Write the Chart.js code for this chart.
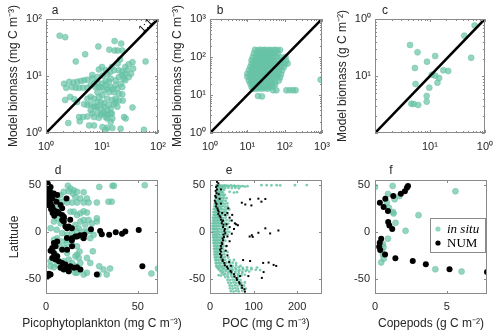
<!DOCTYPE html>
<html>
<head>
<title>Model vs in situ biomass</title>
<script src="https://cdn.jsdelivr.net/npm/chart.js@4.4.1/dist/chart.umd.min.js"></script>
<style>
  body { margin: 0; background: #fff; }
  #wrap { position: relative; width: 500px; height: 336px; }
  #wrap canvas { position: absolute; left: 0; top: 0; }
</style>
</head>
<body>
<div id="wrap">
  <canvas id="panelA" width="500" height="336"></canvas>
  <canvas id="panelB" width="500" height="336"></canvas>
  <canvas id="panelC" width="500" height="336"></canvas>
  <canvas id="panelD" width="500" height="336"></canvas>
  <canvas id="panelE" width="500" height="336"></canvas>
  <canvas id="panelF" width="500" height="336"></canvas>
</div>
<script>
// ---- axis ranges and ticks ----
const aRange = [1, 100], aTicks = [1, 10, 100], aTickText = ['10⁰', '10¹', '10²'];
const bRange = [1, 1000], bTicks = [1, 10, 100, 1000], bTickText = ['10⁰', '10¹', '10²', '10³'];
const cRange = [0.01, 1], cTicks = [0.01, 0.1, 1], cTickText = ['', '10¹', '10⁰'];
const latRange = [-66, 55], latTicks = [-50, 0, 50];
const dRange = [0, 61], dTicks = [0, 50];
const eRange = [0, 257], eTicks = [0, 100, 200];
const fRange = [0, 7.8], fTicks = [0, 5];

// ---- a: picophytoplankton, in situ (x) vs model (y), mg C m-3 ----
const picoPairs = [[1.75,51],[2.2,48],[8.6,33],[16.8,41],[22,37],[13.5,29],[16.8,28],[19,28],[23,28],[5,24],[3.4,18],[60,18],[35,17.5],[30,16],[26,14.4],[36,13.5],[21,19.5],[19,16.5],[10,14.4],[8.8,13],[11.6,12.6],[14,11.8],[16.4,12.6],[12.4,10.7],[10.2,10.2],[8.3,9.6],[6.7,9],[5.5,8.6],[4.8,8.4],[4.2,8.2],[3.6,7.9],[3.1,7.7],[2.6,7.9],[2.1,7.3],[2.3,6.2],[2.9,6.4],[3.4,6.2],[3.9,6.2],[4.6,6.2],[5.5,6.2],[6.3,6.9],[7.2,7.3],[14.3,9],[17.5,8.4],[20,9.6],[23,10.3],[26,11],[33,11],[24.7,9],[21.5,7.3],[17.5,6.9],[14.3,6.4],[11.6,6.9],[9.5,6.4],[10.9,5.6],[13.3,5.2],[16.4,5.2],[20,4.9],[10.2,4.6],[8.3,5.2],[8.8,4.3],[12.4,4],[15.3,3.8],[17.5,3.4],[23,4.8],[23.5,3.7],[35,2.8],[2.2,3.8],[2.7,4.3],[3.2,3.9],[3.6,3.5],[4.8,3.2],[5.5,3.1],[6.3,3.2],[7.2,2.9],[8.3,2.9],[9.5,2.7],[10.9,2.9],[12.4,2.5],[14.3,2.7],[8.3,2.3],[6.7,2.2],[10.2,2.2],[12.4,2.1],[15,2.2],[6.3,2.5],[3.9,1.9],[4.6,1.9],[5.5,1.95],[7.2,1.9],[8.8,1.85],[11.6,1.9],[15.3,1.8],[14.3,1.56],[24.7,1.9],[26.5,1.8],[2.5,1.5],[4,1.6],[5.9,1.36],[7.2,1.36],[10.2,1.27],[12.4,1.24],[15.3,1.22],[11.6,1.14],[21.5,1.19],[56,1.14],[10.2,7.3],[11.6,8.2],[13.3,7.9],[8.3,7.9],[8.8,6.4],[12.4,6],[15.3,5.8],[18.8,6],[9.5,3.5],[10.9,3.3],[13.3,3.1],[7.2,4],[6.3,4.3],[5.5,4],[18.8,2.9],[16.4,3.2],[7.6,6.4],[6.7,10.4],[15,14.4],[20,12.6],[23,12],[28,12.6],[10.9,2.3],[14.3,2.2],[12.4,1.8],[17.5,4],[20,3.7],[8.3,3.5],[7.6,2.9],[9.5,2.1],[26,8.4],[30,9.6],[23,6.4]];

// ---- b: POC, in situ (x) vs model (y), mg C m-3 ----
const pocPairs = [[16,155],[19,150],[22,156],[26,152],[30,155],[35,150],[40,154],[47,151],[55,155],[64,150],[75,153],
[15,125],[18,120],[21,126],[25,122],[29,124],[34,120],[40,126],[46,121],[55,124],[65,120],
[14,100],[17,98],[20,103],[24,99],[28,101],[33,97],[40,102],[48,98],[60,101],[80,97],[105,100],
[13,82],[16,80],[19,84],[23,81],[27,83],[32,79],[38,84],[45,80],[55,82],[68,79],[85,83],[110,80],
[13,67],[15,65],[18,69],[21,66],[25,68],[30,64],[36,69],[43,65],[52,68],[65,64],[80,68],[100,65],[120,67],
[12,55],[14,53],[17,57],[20,54],[24,56],[28,52],[34,57],[40,53],[50,56],[62,52],[78,56],[95,54],
[11,45],[13,43],[16,47],[19,44],[22,46],[26,42],[31,47],[38,44],[46,46],[56,43],[70,46],[85,44],
[10,36],[12,35],[14,38],[17,35],[20,37],[24,34],[29,38],[35,35],[42,37],[52,34],[65,37],[80,35],
[10,30],[12,29],[14,31],[16,28],[19,30],[23,29],[28,31],[34,28],[41,30],[50,29],[62,31],[75,29],
[11,24],[13,23],[15,25],[18,23],[21,24],[25,22],[30,25],[37,23],[45,24],[55,22],[70,24],
[12,20],[14,19],[16,21],[19,19],[22,20],[26,18.5],[31,20.5],[38,19],[46,20],[56,19],
[13,16.5],[15,16],[17,17],[20,16],[24,16.8],[28,15.8],[34,16.5],[40,16],[48,16.8],
[14,14.7],[17,14.5],[20,15],[24,14.6],[29,15],[35,14.6],
[49,13.3],[60,13.3],[111,13.3],[136,13.3],[167,13.3],[197,13.3],[19.3,9.4],[24.6,9.2],[920,25.3]];

// ---- c: copepods, in situ (x) vs model (y), g C m-2 ----
const copePairs = [[0.0434,0.35],[0.0594,0.26],[0.1245,0.224],[0.0884,0.178],[0.0532,0.138],[0.0547,0.0724],[0.0973,0.0624],[0.1086,0.1055],[0.1245,0.1014],[0.147,0.092],[0.137,0.0764],[0.175,0.1257],[0.215,0.1224],[0.0872,0.0446],[0.0872,0.0355],[0.0458,0.0327],[0.0504,0.0323],[0.0611,0.031],[0.5623,0.209],[0.422,0.51],[0.65,0.77]];

// ---- d: picophytoplankton vs latitude ----
const picoLatObs = [[11.9,48.8],[29,47.7],[36.2,48.8],[37,48.8],[53.8,49.5],[13.3,46],[15.1,44],[16.9,42.5],[14.7,40.7],[12.4,43],[9.7,42.5],[7.9,39],[16,37],[20.5,42],[18.7,35.4],[22.3,35.4],[20.5,31],[23.2,31],[27.7,31],[34,32],[35.8,32],[16.9,31],[14.2,31],[11.5,31],[8.8,32],[6.1,33.7],[15.1,21.4],[13.3,21.4],[16.9,17.9],[18.7,19.6],[22.3,20.4],[20.5,12.6],[23.2,12.6],[27.7,10.9],[18.7,10.9],[16,7.4],[17.8,3.9],[20.5,0.4],[22.3,0.4],[24.1,1],[16.9,0.4],[14.2,-1.4],[11.5,-3.2],[8.8,-1.4],[5.8,2.1],[6.1,-6.7],[8.8,-10.2],[11.5,-8.4],[14.2,-13.7],[16.9,-15.4],[9.7,-17.2],[7,-15.4],[25.5,-20.7],[11.5,-22.5],[16,-26],[17.8,-27.7],[12.4,-29.5],[9.7,-31.2],[14.2,-33],[18.7,-33],[16,-36.5],[2.5,-36.5],[4.3,-37.5],[8.8,-39],[22.3,-43.5],[20.5,-45.3],[29,-36.5],[31.3,-40],[34.9,-39],[33.1,-45.3],[28.6,-45.3],[57.4,-44.2],[61,-39],[2.5,42.5],[4.3,37],[3.4,28.4],[5.2,25],[6.1,14.4],[4.3,10.9],[7.9,9.1],[2.5,3.9],[4.3,-8.4],[3.4,-19],[5.2,-24],[2.5,-31.2],[6.1,-34.7],[9.7,-36.5],[12.4,-41.8],[18.7,-40],[16.9,-43.5],[20.5,21.8],[21.4,7.4],[25,9.1],[27.7,14.4],[24.1,-6.7],[25.9,-3.2],[16.9,-24.2],[22.3,-27.7],[24.1,-33],[19.6,-5.4],[11.5,-12.4],[18.3,-21],[15.9,-43.5]];
const picoLatModel = [[0.7,49.5],[1.6,47.7],[2.5,47.7],[1.1,44.2],[2.2,42.5],[1.6,39],[2.5,37.2],[3.4,35.4],[1.6,33.7],[2.5,30],[3.4,26.7],[4.3,23.2],[5.2,21.4],[6.1,21.4],[7,19.6],[8.8,17.9],[9.7,16.1],[8.8,12.6],[9.7,10.9],[10.6,5.6],[11.5,3.9],[12.4,5.6],[6.1,39],[4.3,40.7],[11.2,35.4],[5.7,31.9],[7.9,28.4],[8.8,24.9],[9.7,14.4],[24.5,2.8],[29.5,1],[30.4,-2.5],[34.4,-3.2],[38,-0.4],[41.4,-2.1],[43.2,0.4],[50.5,1.8],[20.9,-3.2],[16.9,-4.9],[20.5,-6.7],[6.1,-10.2],[4.3,-11.9],[5.2,-15.4],[3.4,-17.2],[2.5,-20],[4.3,-22.5],[6.1,-26],[5.2,-29.5],[3.4,-27.7],[7,-31.2],[8.8,-33],[10.6,-34.7],[11.5,-38.2],[13.3,-36.5],[15.1,-38.2],[16.9,-37.5],[18.7,-40],[12.4,-41.8],[9.7,-40],[7.9,-38.2],[14.2,-15.4],[8.8,-19],[11.5,-19],[1.6,-44.6],[1.1,-47],[2.5,-45.3],[52.5,-36.5],[27.7,-45.3],[16,-4.9],[14.2,-6.7],[0.5,52],[1,51],[0.3,46],[0.8,41],[1.2,36],[0.9,31],[1.8,28],[2.8,24],[3.6,20],[4.5,17],[0.4,38],[13.2,12.7],[14.1,3.7],[14.1,-9],[11.4,-6.5],[18.6,-3.6]];

// ---- e: POC vs latitude ----
const pocLatObs = [[15,49.2],[18,48.6],[21,49.5],[24,48.8],[27,49.1],[30,48.4],[33,49.3],[36,48.7],[40,49],[44,48.5],[48,49.2],[52,48.6],[56,48.9],[60,48.3],[65,48.8],[70,48.2],[75,48.6],[80,48],[86,48.4],
[20,47.2],[25,46.8],[30,47],[35,46.5],[42,46.9],[50,46.4],[58,46.8],[66,46.2],
[118,49.5],[130,49.5],[141,49.3],[153,49.5],[161,49.4],[195,49.5],[222,49.6],
[16,45],[19,44.6],[22,45.3],[25,44.8],[28,45.1],[32,44.5],
[15,42],[18,41.6],[21,42.3],[24,41.8],[27,42.2],[30,41.5],[45,42.4],[55,41.7],[62,42.1],
[14,39],[17,38.5],[20,39.3],[23,38.8],[26,39.1],[30,38.6],[34,39.2],
[13,36],[16,35.6],[19,36.3],[22,35.8],[25,36.1],[28,35.5],[32,36.2],[38,35.7],
[12,33],[15,32.6],[18,33.2],[21,32.8],[24,33.1],[27,32.5],[31,33.3],[36,32.7],
[11,30],[14,29.5],[17,30.3],[20,29.8],[23,30.2],[26,29.6],[30,30.1],[35,29.7],[40,30.2],
[10,27],[13,26.6],[16,27.3],[19,26.8],[22,27.1],[25,26.5],[29,27.2],[34,26.7],[40,27],
[9,24],[12,23.6],[15,24.2],[18,23.7],[21,24.3],[24,23.8],[28,24.1],[33,23.5],[38,24.2],[44,23.8],
[8,21],[11,20.6],[14,21.3],[17,20.7],[20,21.2],[23,20.5],[27,21.1],[32,20.8],[37,21.2],
[8,18],[11,17.6],[14,18.2],[17,17.7],[20,18.3],[24,17.5],[28,18.1],[33,17.8],[40,18.2],
[7,15],[10,14.6],[13,15.2],[16,14.7],[19,15.3],[22,14.8],[26,15.1],[30,14.5],[36,15.2],
[7,12],[10,11.5],[13,12.2],[16,11.7],[19,12.3],[22,11.8],[26,12.1],[31,11.6],[38,12.2],[45,11.8],
[6,9],[9,8.6],[12,9.2],[15,8.7],[18,9.3],[21,8.8],[25,9.1],[30,8.5],[35,9.2],[42,8.8],
[6,6],[9,5.6],[12,6.2],[15,5.7],[18,6.3],[22,5.8],[26,6.1],[31,5.5],[37,6.2],
[6,3],[9,2.6],[12,3.2],[15,2.7],[18,3.3],[22,2.8],[27,3.1],[33,2.5],[40,3.2],
[6,0],[9,-0.4],[12,0.3],[15,-0.3],[18,0.4],[22,-0.2],[27,0.2],[32,-0.5],[38,0.3],[44,-0.1],
[7,-3],[10,-3.4],[13,-2.7],[16,-3.3],[19,-2.6],[23,-3.2],[28,-2.8],[34,-3.4],[40,-2.9],
[7,-6],[10,-6.4],[13,-5.7],[16,-6.3],[19,-5.6],[23,-6.2],[27,-5.8],[32,-6.4],
[8,-9],[11,-9.4],[14,-8.7],[17,-9.3],[20,-8.6],[24,-9.2],[29,-8.8],[35,-9.4],
[8,-12],[11,-12.4],[14,-11.7],[17,-12.3],[21,-11.6],[25,-12.2],[30,-11.8],
[9,-15],[12,-15.4],[15,-14.7],[18,-15.3],[22,-14.6],[26,-15.2],[31,-14.8],[37,-15.3],
[9,-18],[12,-18.4],[15,-17.7],[18,-18.3],[22,-17.6],[26,-18.2],[30,-17.8],
[10,-21],[13,-21.4],[16,-20.7],[19,-21.3],[23,-20.6],[27,-21.2],[32,-20.8],[40,-21.3],
[10,-24],[13,-24.4],[16,-23.7],[20,-24.3],[24,-23.6],[28,-24.2],[33,-23.8],
[11,-27],[14,-27.4],[17,-26.7],[21,-27.3],[25,-26.6],[29,-27.2],[34,-26.8],[42,-27.3],
[12,-30],[15,-30.4],[18,-29.7],[22,-30.3],[26,-29.6],[30,-30.2],[35,-29.8],[45,-30.3],[55,-29.9],
[13,-33],[16,-33.4],[20,-32.7],[24,-33.3],[28,-32.6],[33,-33.2],[38,-32.8],[45,-33.3],[52,-32.7],[60,-33.2],
[14,-36],[18,-36.4],[22,-35.7],[27,-36.3],[32,-35.6],[38,-36.2],[45,-35.8],[52,-36.3],[60,-35.7],[70,-36.2],
[16,-38],[20,-38.4],[25,-37.7],[30,-38.3],[36,-37.6],[42,-38.2],[50,-37.8],[58,-38.3],[66,-37.7],[75,-38.2],[85,-37.8],[95,-38.3],[108,-37.9],
[20,-40],[26,-40.4],[32,-39.7],[38,-40.3],[45,-39.6],[52,-40.2],[60,-39.8],[68,-40.3],[76,-39.7],[85,-40.2],[95,-39.8],[105,-40.3],[115,-40.6],
[24,-42],[30,-42.4],[36,-41.7],[43,-42.3],[50,-41.6],[58,-42.2],[66,-41.8],[74,-42.3],[82,-41.7],[90,-42.2],
[28,-44],[35,-44.4],[42,-43.7],[50,-44.3],[58,-43.6],[66,-44.2],[74,-43.8],
[20,-46],[25,-46.4],[32,-45.7],[40,-46.3],[48,-45.6],[56,-46.2],[64,-45.8],[72,-46.3],[80,-45.7],
[35,-48],[42,-48.4],[50,-47.7],[58,-48.3],[65,-47.6],
[40,-51],[46,-51.4],[52,-50.7],[58,-51.3],[64,-50.6],[70,-51.2],
[42,-54],[48,-54.4],[54,-53.7],[60,-54.3],[66,-53.6],[72,-54.2],[80,-53.8],
[45,-57],[51,-57.4],[57,-56.7],[63,-57.3],[70,-56.6],[78,-57.2],
[46,-60],[52,-60.4],[58,-59.7],[64,-60.3],[72,-59.6],[82,-60.2],
[48,-63],[54,-63.4],[60,-62.7],[66,-63.3],[74,-62.6]];
const pocLatModel = [[16,53],[19,51.5],[17,49],[14,47.5],[16,45],[13,43.5],[15,41],[12,38],[14,36.5],[11,33],[13,31],[15,29.5],[14,27],[17,25],[18,23],[20,21.5],[19,19],[22,17],[24,15.5],[25,13],[28,11],[27,9],[31,7.5],[30,5],[34,3],[33,1],[35,-1.5],[31,-3],[32,-5.5],[29,-7],[30,-9],[27,-11.5],[28,-13],[25,-15],[26,-17.5],[23,-19],[25,-21],[23,-23.5],[26,-25],[25,-27],[29,-29.5],[29,-31],[33,-33],[34,-35.5],[39,-37],[41,-39],[47,-41.5],[49,-43],[55,-45],[56,-47.5],[61,-49],[62,-51],[67,-53.5],[68,-55],[73,-57],[74,-59.5],[79,-61],[80,-63.5],
[40,20],[45,15],[50,12],[38,8],[45,5],[55,3],[60,8],[50,-2],[40,-5],[45,-10],[38,-15],[30,12],[35,18],[42,25],[25,30],[20,40],[25,45],[22,35],[36,-20],[40,-25],[44,-32],[48,-36],[28,20],
[73,30.9],[81,29],[92,34.5],[111,35.2],[127,34.8],[118,32],[95,28],[51,18],[57,9],[64,7],[91,-5],[96,-3.6],[98,-5.4],[111,-1],[127,3.7],[138,-1.7],[157,1.4],[76,-30],[92,-31],[122,-33],[134.5,-32.6],[146,-35.1],[152,-36.2],[123,-42.7],[119,-48.9],[69,-47],[88,-47]];

// ---- f: copepods vs latitude ----
const copeLatObs = [[0,47.5],[1.23,48.7],[5.6,43],[0.9,40.2],[1.7,38],[1.37,34.5],[0.82,31],[0.97,25.5],[1.25,21],[1.3,19.5],[3.03,17.7],[1.43,9.5],[2.13,1.1],[0.9,-7.3],[0.55,-12.8],[0.59,-16.4],[0.47,-20],[0.55,-24],[0.6,-28.5],[0.43,-32.5],[4.2,-39.8],[6.03,-42.2]];
const copeLatModel = [[2.3,48.7],[2.22,46.9],[2.08,43],[1.8,40.3],[1.27,38],[0.72,35],[0.34,30.8],[0.6,26.4],[0.9,22],[0.92,10.3],[1.0,6.8],[1.2,3.1],[0.43,-7.4],[0.33,-11.7],[0.29,-15.8],[0.36,-19.4],[0.7,-24],[1.42,-28],[2.63,-31],[3.54,-34.4],[5.19,-39.7],[7.8,-42.6]];

const legendNames = ['in situ', 'NUM'];

// ---- styling ----
const SANS = "'Liberation Sans', Arial, Helvetica, sans-serif";
const SERIF = "'Liberation Serif', 'Times New Roman', serif";
const TEAL = 'rgba(102,194,165,0.7)';
const TEAL_EDGE = 'rgba(102,194,165,0.95)';
const AXIS = '#8a8a8a';
const TEXT = '#262626';

function pts(arr) { return arr.map(p => ({x: p[0], y: p[1]})); }

// box around the plot with inward ticks, panel letter, x title, extra note
const framePlugin = {
  id: 'frame',
  afterDatasetsDraw(chart, args, opt) {
    const {ctx, chartArea: ca} = chart;
    ctx.save();
    ctx.strokeStyle = AXIS;
    ctx.lineWidth = 1;
    ctx.beginPath();
    const mark = (s, v, len) => {
      const p = Math.round(s.getPixelForValue(v)) + 0.5;
      if (s.isHorizontal()) {
        ctx.moveTo(p, ca.bottom); ctx.lineTo(p, ca.bottom - len);
        ctx.moveTo(p, ca.top); ctx.lineTo(p, ca.top + len);
      } else {
        ctx.moveTo(ca.left, p); ctx.lineTo(ca.left + len, p);
        ctx.moveTo(ca.right, p); ctx.lineTo(ca.right - len, p);
      }
    };
    [chart.scales.x, chart.scales.y].forEach(s => {
      s.ticks.forEach(t => mark(s, t.value, 3));
      if (s.type === 'logarithmic') {
        for (let d = s.min; d < s.max * 0.999; d *= 10) {
          for (let m = 2; m < 10; m++) mark(s, d * m, 2);
        }
      }
    });
    ctx.stroke();
    ctx.strokeRect(Math.round(ca.left) + 0.5, Math.round(ca.top) + 0.5,
                   Math.round(ca.width) - 1, Math.round(ca.height) - 1);

    ctx.fillStyle = TEXT;
    ctx.font = '12px ' + SANS;
    ctx.textAlign = 'center';
    ctx.textBaseline = 'middle';
    ctx.fillText(opt.letter, ca.left + opt.dx, ca.top - opt.dy);

    // x title drawn here so a long label is not squeezed to the plot width
    if (opt.xTitle) {
      ctx.fillText(opt.xTitle, (ca.left + ca.right) / 2, ca.bottom + 30);
    }

    if (opt.note) {
      ctx.save();
      ctx.translate(ca.right - 12, ca.top + 7);
      ctx.rotate(-Math.PI / 4);
      ctx.fillStyle = '#000';
      ctx.font = '11px ' + SANS;
      ctx.fillText(opt.note, 0, 0);
      ctx.restore();
    }
    ctx.restore();
  }
};

// legend box inside panel f
const keyPlugin = {
  id: 'keybox',
  afterDraw(chart, args, opt) {
    const {ctx, chartArea: ca} = chart;
    const x0 = ca.right - 57, y0 = ca.top + 38, w = 56, h = 35;
    ctx.save();
    ctx.fillStyle = '#fff';
    ctx.fillRect(x0, y0, w, h);
    ctx.strokeStyle = AXIS;
    ctx.lineWidth = 1;
    ctx.strokeRect(x0 + 0.5, y0 + 0.5, w - 1, h - 1);
    const rows = [
      {text: legendNames[0], fill: TEAL, font: 'italic 13px ' + SERIF},
      {text: legendNames[1], fill: '#000', font: '13px ' + SERIF}
    ];
    rows.forEach((r, i) => {
      const cy = y0 + 11 + i * 14;
      ctx.beginPath();
      ctx.arc(x0 + 8, cy, 2.6, 0, Math.PI * 2);
      ctx.fillStyle = r.fill;
      ctx.fill();
      ctx.fillStyle = '#000';
      ctx.font = r.font;
      ctx.textAlign = 'left';
      ctx.textBaseline = 'middle';
      ctx.fillText(r.text, x0 + 17, cy + 1);
    });
    ctx.restore();
  }
};

function axis(kind, range, ticks, labels, pad, size, title, titlePad) {
  const o = {
    type: kind,
    min: range[0],
    max: range[1],
    afterBuildTicks: s => { s.ticks = ticks.map(v => ({value: v})); },
    grid: {display: false, drawTicks: false},
    border: {display: false},
    ticks: {
      autoSkip: false, maxRotation: 0, padding: pad, color: TEXT,
      font: {family: SANS, size: size},
      callback: (v, i) => labels ? labels[i] : String(v)
    },
    title: {display: false}
  };
  if (title) {
    o.title = {display: true, text: title, color: TEXT, font: {family: SANS, size: 12}, padding: titlePad};
  }
  return o;
}

function makePanel(id, area, xAxis, yAxis, datasets, frameOpts, extra) {
  const yW = 44, xH = 40;
  xAxis.afterFit = s => { s.height = xH; };
  yAxis.afterFit = s => { s.width = yW; };
  xAxis.position = 'bottom';
  yAxis.position = 'left';
  return new Chart(document.getElementById(id), {
    type: 'scatter',
    data: {datasets: datasets},
    options: {
      responsive: false,
      animation: false,
      events: [],
      layout: {padding: {left: area[0] - yW, top: area[1], right: 500 - area[2], bottom: 336 - area[3] - xH}},
      plugins: {legend: {display: false}, tooltip: {enabled: false}, frame: frameOpts},
      scales: {x: xAxis, y: yAxis}
    },
    plugins: [framePlugin].concat(extra || [])
  });
}

function tealSet(data, r) {
  return {data: pts(data), backgroundColor: TEAL, borderColor: TEAL_EDGE, borderWidth: 0.5, pointRadius: r, order: 2};
}
function blackSet(data, r, style) {
  return {data: pts(data), backgroundColor: '#000', borderColor: '#000', borderWidth: 0, pointRadius: r, pointStyle: style || 'circle', order: 1};
}
function diagSet(range) {
  return {type: 'line', data: range.map(v => ({x: v, y: v})), showLine: true, borderColor: '#000', borderWidth: 2.6, pointRadius: 0, order: 0};
}

const yTitlePad = {top: 4, bottom: 0};

// top row
makePanel('panelA', [46, 19, 158, 133],
  axis('logarithmic', aRange, aTicks, aTickText, 7, 11),
  axis('logarithmic', aRange, aTicks, aTickText, 4, 11, 'Model biomass (mg C m⁻³)', yTitlePad),
  [diagSet(aRange), tealSet(picoPairs, 3)],
  {letter: 'a', dx: 9, dy: 8, note: '1:1'});

makePanel('panelB', [210, 19, 322, 133],
  axis('logarithmic', bRange, bTicks, bTickText, 7, 11),
  axis('logarithmic', bRange, bTicks, bTickText, 4, 11, 'Model biomass (mg C m⁻³)', yTitlePad),
  [diagSet(bRange), tealSet(pocPairs, 3)],
  {letter: 'b', dx: 10, dy: 8});

makePanel('panelC', [375, 19, 487, 133],
  axis('logarithmic', cRange, cTicks, cTickText, 7, 11),
  axis('logarithmic', cRange, cTicks, cTickText, 4, 11, 'Model biomass (g C m⁻²)', yTitlePad),
  [diagSet(cRange), tealSet(copePairs, 3)],
  {letter: 'c', dx: 10, dy: 8});

// bottom row
makePanel('panelD', [46, 180, 158, 294],
  axis('linear', dRange, dTicks, null, 6, 11),
  axis('linear', latRange, latTicks, null, 5, 11, 'Latitude', {top: 5, bottom: 0}),
  [blackSet(picoLatModel, 3), tealSet(picoLatObs, 3)],
  {letter: 'd', dx: 12, dy: 9, xTitle: 'Picophytoplankton (mg C m⁻³)'});

makePanel('panelE', [210, 180, 322, 294],
  axis('linear', eRange, eTicks, null, 6, 11),
  axis('linear', latRange, latTicks, null, 5, 11),
  [blackSet(pocLatModel, 1.4, 'rect'),
   {data: pts(pocLatObs), backgroundColor: 'rgba(102,194,165,0.85)', borderWidth: 0, pointRadius: 1.4, order: 2}],
  {letter: 'e', dx: 19, dy: 9, xTitle: 'POC (mg C m⁻³)'});

makePanel('panelF', [375, 180, 487, 294],
  axis('linear', fRange, fTicks, null, 6, 11),
  axis('linear', latRange, latTicks, null, 5, 11),
  [blackSet(copeLatModel, 3), tealSet(copeLatObs, 3)],
  {letter: 'f', dx: 16, dy: 9, xTitle: 'Copepods (g C m⁻²)'},
  [keyPlugin]);
</script>
</body>
</html>
